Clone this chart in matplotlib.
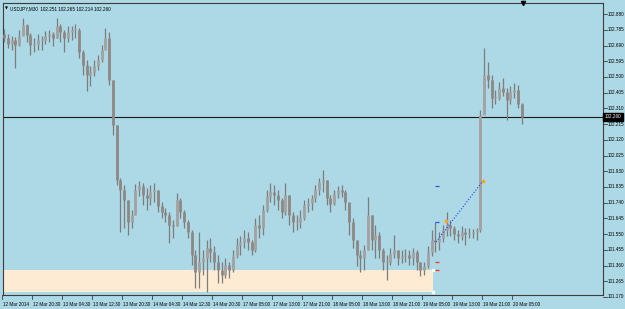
import matplotlib
matplotlib.use("Agg")
import matplotlib.pyplot as plt
from matplotlib.patches import Rectangle

# USDJPY bars (price units)
first_open = 102.760
highs = [
    102.790, 102.760, 102.747, 102.741, 102.784, 102.856, 102.820, 102.766, 102.735, 102.760,
    102.747, 102.778, 102.784, 102.772, 102.856, 102.820, 102.784, 102.808, 102.808, 102.820,
    102.796, 102.663, 102.602, 102.566, 102.602, 102.633, 102.693, 102.796, 102.772, 102.482,
    102.210, 101.889, 101.847, 101.756, 101.696, 101.853, 101.871, 101.859, 101.829, 101.847,
    101.859, 101.817, 101.744, 101.708, 101.684, 101.636, 101.799, 101.768, 101.696, 101.636,
    101.575, 101.454, 101.563, 101.454, 101.515, 101.527, 101.478, 101.424, 101.382, 101.406,
    101.382, 101.454, 101.527, 101.539, 101.575, 101.563, 101.515, 101.648, 101.666, 101.726,
    101.817, 101.859, 101.847, 101.817, 101.768, 101.859, 101.787, 101.684, 101.666, 101.696,
    101.756, 101.768, 101.787, 101.847, 101.889, 101.938, 101.877, 101.787, 101.817, 101.841,
    101.847, 101.817, 101.726, 101.648, 101.515, 101.454, 101.485, 101.775, 101.666, 101.605,
    101.563, 101.466, 101.424, 101.466, 101.545, 101.454, 101.454, 101.460, 101.454, 101.466,
    101.454, 101.382, 101.382, 101.478, 101.575, 101.623, 101.563, 101.605, 101.684, 101.636,
    101.599, 101.575, 101.599, 101.587, 101.587, 101.581, 101.587, 102.300, 102.675, 102.590,
    102.512, 102.421, 102.470, 102.494, 102.433, 102.445, 102.463, 102.451, 102.343,
]
lows = [
    102.711, 102.675, 102.663, 102.554, 102.687, 102.753, 102.711, 102.633, 102.651, 102.663,
    102.663, 102.699, 102.711, 102.687, 102.735, 102.711, 102.651, 102.711, 102.723, 102.735,
    102.615, 102.512, 102.415, 102.445, 102.506, 102.542, 102.590, 102.675, 102.451, 102.149,
    101.847, 101.563, 101.587, 101.545, 101.587, 101.666, 101.781, 101.726, 101.696, 101.726,
    101.744, 101.684, 101.648, 101.623, 101.497, 101.527, 101.599, 101.648, 101.587, 101.527,
    101.364, 101.225, 101.225, 101.303, 101.201, 101.382, 101.333, 101.255, 101.255, 101.285,
    101.285, 101.321, 101.406, 101.424, 101.466, 101.454, 101.424, 101.442, 101.527, 101.545,
    101.684, 101.744, 101.726, 101.696, 101.648, 101.666, 101.605, 101.563, 101.575, 101.587,
    101.636, 101.684, 101.696, 101.744, 101.787, 101.805, 101.726, 101.684, 101.726, 101.768,
    101.775, 101.696, 101.545, 101.466, 101.358, 101.321, 101.333, 101.454, 101.454, 101.406,
    101.406, 101.333, 101.273, 101.364, 101.406, 101.364, 101.376, 101.382, 101.364, 101.364,
    101.333, 101.297, 101.303, 101.346, 101.418, 101.442, 101.454, 101.503, 101.539, 101.539,
    101.515, 101.497, 101.515, 101.485, 101.527, 101.527, 101.515, 101.563, 102.300, 102.433,
    102.312, 102.337, 102.361, 102.385, 102.240, 102.337, 102.373, 102.312, 102.216,
]
closes = [
    102.735, 102.699, 102.723, 102.693, 102.747, 102.814, 102.753, 102.693, 102.699, 102.723,
    102.723, 102.747, 102.760, 102.735, 102.808, 102.772, 102.735, 102.772, 102.784, 102.784,
    102.651, 102.572, 102.512, 102.530, 102.566, 102.602, 102.663, 102.735, 102.482, 102.210,
    101.877, 101.817, 101.756, 101.623, 101.666, 101.817, 101.841, 101.787, 101.768, 101.805,
    101.817, 101.720, 101.684, 101.666, 101.605, 101.599, 101.756, 101.684, 101.623, 101.563,
    101.424, 101.321, 101.382, 101.406, 101.466, 101.442, 101.382, 101.333, 101.303, 101.364,
    101.333, 101.418, 101.485, 101.503, 101.527, 101.503, 101.454, 101.605, 101.587, 101.696,
    101.781, 101.805, 101.787, 101.756, 101.684, 101.787, 101.666, 101.623, 101.623, 101.648,
    101.726, 101.738, 101.768, 101.817, 101.865, 101.877, 101.768, 101.732, 101.793, 101.817,
    101.805, 101.744, 101.623, 101.515, 101.424, 101.406, 101.454, 101.666, 101.515, 101.545,
    101.454, 101.382, 101.382, 101.430, 101.454, 101.406, 101.418, 101.424, 101.406, 101.442,
    101.382, 101.333, 101.358, 101.442, 101.515, 101.503, 101.527, 101.575, 101.605, 101.587,
    101.551, 101.539, 101.563, 101.551, 101.557, 101.563, 101.575, 102.270, 102.512, 102.482,
    102.373, 102.373, 102.433, 102.409, 102.361, 102.409, 102.421, 102.337, 102.260,
]
opens = [first_open] + closes[:-1]

price_labels = [102.880 - 0.095 * k for k in range(19)]
time_labels = ["12 Mar 2014", "12 Mar 20:30", "13 Mar 04:30", "13 Mar 12:30", "13 Mar 20:30",
               "14 Mar 04:30", "14 Mar 12:30", "14 Mar 20:30", "17 Mar 05:00", "17 Mar 13:00",
               "17 Mar 21:00", "18 Mar 05:00", "18 Mar 13:00", "18 Mar 21:00", "19 Mar 05:00",
               "19 Mar 13:00", "19 Mar 21:00", "20 Mar 05:00"]
bars_per_label = 8

last_price = 102.260
zone_low, zone_high, zone_end = 101.201, 101.333, 114.4
trend_x, trend_y = [115.2, 127.7], [101.503, 101.871]
buy_marks = [101.841, 101.623]
sell_marks = [101.382, 101.333]

bg = "#add8e6"
fig = plt.figure(figsize=(6.25, 3.09), dpi=100, facecolor=bg)
ax = fig.add_axes([3 / 625, 14 / 309, 600 / 625, 292 / 309], facecolor=bg)
ax.set_xlim(-0.27, 159.73)
ax.set_ylim(101.182, 102.947)
for s in ax.spines.values():
    s.set_color("#3c3c3c")
    s.set_linewidth(0.8)
ax.set_xticks([])
ax.set_yticks([])

# support zone
ax.add_patch(Rectangle((-0.27, zone_low), zone_end + 0.27, zone_high - zone_low,
                       facecolor="#fdebd3", edgecolor="none", zorder=1))
ax.plot([zone_end, zone_end], [zone_low, zone_high], ls="none", marker="s",
        ms=1.5, color="white", zorder=5)

# candles
idx = list(range(len(closes)))
ax.vlines(idx, lows, highs, color="#7d7d7d", lw=0.9, zorder=3)
body_lo = [min(o, c) for o, c in zip(opens, closes)]
body_hi = [max(o, c) if abs(o - c) > 0.004 else min(o, c) + 0.004 for o, c in zip(opens, closes)]
body_col = ["#a2a2a2" if c >= o else "#8d8884" for o, c in zip(opens, closes)]
ax.vlines(idx, body_lo, body_hi, colors=body_col, lw=2.0, zorder=4)

# current price line
ax.axhline(last_price, color="#1a1a1a", lw=0.8, zorder=2)

# trend line and trade marks
ax.plot(trend_x, trend_y, ls=":", color="#2040ff", lw=0.8, zorder=5)
ax.plot([trend_x[1], 117.8], [trend_y[1], 101.630], ls="none", marker="s", ms=1.5,
        color="#ffa020", zorder=6)
for p in buy_marks:
    ax.hlines(p, 115.0, 116.0, color="#3050ff", lw=0.9, zorder=5)
for p in sell_marks:
    ax.hlines(p, 115.0, 116.0, color="#ff3030", lw=0.9, zorder=5)

font = "Liberation Sans"
# price scale
ytr = ax.get_yaxis_transform()
for p in price_labels:
    ax.plot([1.0, 1.006], [p, p], color="#3c3c3c", lw=0.6, transform=ytr, clip_on=False)
    ax.text(1.008, p, f"{p:.3f}", transform=ytr, ha="left", va="center",
            fontsize=3.3, family=font, color="black", clip_on=False)
ax.text(1.003, last_price, f"{last_price:.3f}", transform=ytr, ha="left", va="center",
        fontsize=3.3, family=font, color="white", clip_on=False,
        bbox=dict(boxstyle="square,pad=0.35", fc="black", ec="black"))

# time scale
xtr = ax.get_xaxis_transform()
for k, lab in enumerate(time_labels):
    x = k * bars_per_label - 0.45
    ax.plot([x, x], [0, -0.014], color="#3c3c3c", lw=0.6, transform=xtr, clip_on=False)
    ax.text(x + 0.25, -0.031, lab, transform=xtr, ha="left", va="center",
            fontsize=3.3, family=font, color="black", clip_on=False)

# header
ax.text(0.004, 0.988, "\u25bc", transform=ax.transAxes, ha="left", va="top",
        fontsize=2.8, family="DejaVu Sans", color="black")
ax.text(0.012, 0.99, "USDJPY,M30  102.251 102.265 102.214 102.260", transform=ax.transAxes,
        ha="left", va="top", fontsize=3.3, family=font, color="black")
ax.plot([138.4], [102.947], marker="v", ms=3, color="black", clip_on=False, zorder=6)

fig.savefig("out.png", dpi=100, facecolor=bg)
